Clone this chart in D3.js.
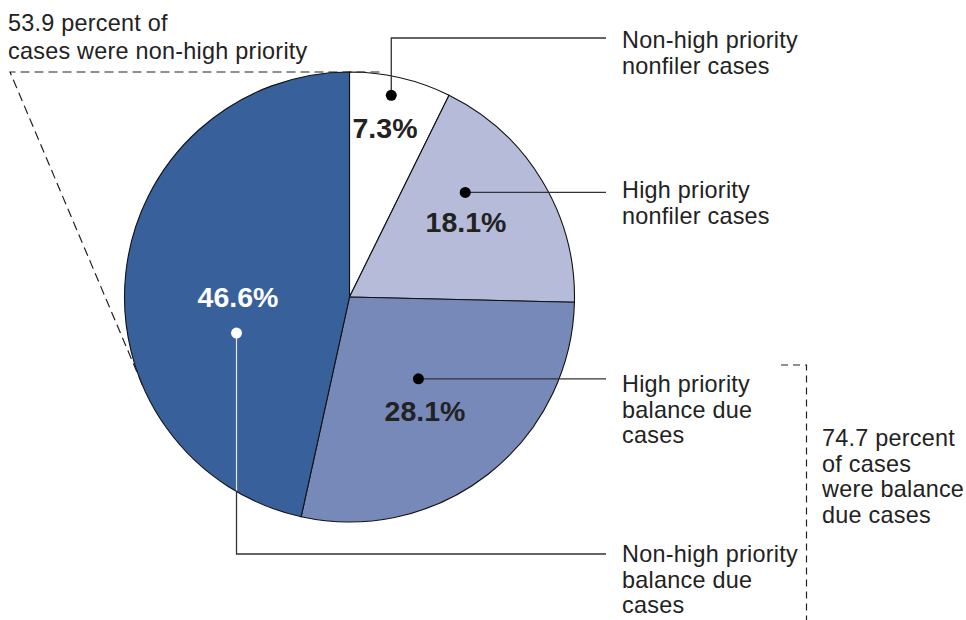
<!DOCTYPE html>
<html><head><meta charset="utf-8">
<script src="https://cdn.jsdelivr.net/npm/d3@7"></script>
<style>
html,body{margin:0;padding:0;background:#fff;}
svg{display:block;font-family:"Liberation Sans",Arial,sans-serif;}
</style></head>
<body><svg id="chart" width="966" height="620"></svg>
<script>
// ---- data ----
const categories = ["Non-high priority nonfiler cases","High priority nonfiler cases","High priority balance due cases","Non-high priority balance due cases"];
const values = [7.3, 18.1, 28.1, 46.6];
const valueLabels = ["7.3%","18.1%","28.1%","46.6%"];
const legendLines = [["Non-high priority","nonfiler cases"],["High priority","nonfiler cases"],["High priority","balance due","cases"],["Non-high priority","balance due","cases"]];
const colors = ["#ffffff","#b7bbda","#7789b9","#38609b"];
const noteLeft = ["53.9 percent of","cases were non-high priority"];
const noteRight = ["74.7 percent","of cases","were balance","due cases"];

// ---- layout ----
const svg = d3.select("#chart");
const cx = 349.5, cy = 297, R = 225;
const ink = "#222";
const fs = 23.4, ls = 0.25;
const g = svg.append("g").attr("transform",`translate(${cx},${cy})`);
const pie = d3.pie().sort(null).value(d=>d)(values);
const arc = d3.arc().innerRadius(0).outerRadius(R);
const polar = (deg, r) => [r*Math.sin(deg*Math.PI/180), -r*Math.cos(deg*Math.PI/180)];

// dashed wedge for non-high priority share
const tx = 10, ty = cy - R;
{
  const vx = cx - tx, vy = cy - ty;
  const d = Math.hypot(vx, vy);
  const t = Math.sqrt(d*d - R*R);
  const base = Math.atan2(vy, vx);
  const a = base + Math.asin(R/d);
  const ex = tx + t*Math.cos(a), ey = ty + t*Math.sin(a);
  svg.append("path").attr("d",`M${ex},${ey}L${tx},${ty}L380,${ty}`)
    .attr("fill","none").attr("stroke","#222").attr("stroke-width",1.2).attr("stroke-dasharray","9,5");
}

g.selectAll("path.slice").data(pie).join("path").attr("class","slice")
  .attr("d",arc).attr("fill",(d,i)=>colors[i]).attr("stroke","#111").attr("stroke-width",1.1);

// annotation anchors (angle in degrees from 12 o'clock, radius)
const anchors = [[11.7,206],[47.9,156],[139.9,107],[252.3,118.6]];
const labelX = 622, lineEndX = 606;
const legendBase = [48, 198, 392, 562];
const legendLeaderY = [38, 192, 379, 554];
const pctPos = [[385,138],[466,232],[425,421],[238,307]];

anchors.forEach((a,i)=>{
  const [dx,dy] = polar(a[0],a[1]);
  const px = cx+dx, py = cy+dy;
  let path;
  if (i===0 || i===3) path = `M${px},${py}V${legendLeaderY[i]}H${lineEndX}`;
  else path = `M${px},${py}H${lineEndX}`;
  svg.append("path").attr("d",path).attr("fill","none").attr("stroke","#333").attr("stroke-width",1.3);
  if (i===3) {
    const edgeY = cy + Math.sqrt(R*R - dx*dx);
    svg.append("line").attr("x1",px).attr("x2",px).attr("y1",py).attr("y2",edgeY-1)
      .attr("stroke","#e6e6e6").attr("stroke-width",1.3);
  }
  svg.append("circle").attr("cx",px).attr("cy",py).attr("r",5.5).attr("fill",i===3?"#fff":"#000");
  svg.append("text").attr("x",pctPos[i][0]).attr("y",pctPos[i][1]).attr("text-anchor","middle")
    .attr("font-weight","bold").attr("font-size",28.5).attr("fill",i===3?"#fff":ink).text(valueLabels[i]);
  legendLines[i].forEach((s,j)=>{
    svg.append("text").attr("x",labelX).attr("y",legendBase[i]+j*25.5).attr("font-size",fs)
      .attr("letter-spacing",ls).attr("fill",ink).text(s);
  });
});

// left note
noteLeft.forEach((s,j)=>svg.append("text").attr("x",8).attr("y",31+j*28).attr("font-size",fs)
  .attr("letter-spacing",ls).attr("fill",ink).text(s));

// right bracket and note
svg.append("path").attr("d","M781,365H806.5V620").attr("fill","none").attr("stroke","#222")
  .attr("stroke-width",1.2).attr("stroke-dasharray","7,5");
noteRight.forEach((s,j)=>svg.append("text").attr("x",822).attr("y",446+j*25.5).attr("font-size",fs)
  .attr("letter-spacing",ls).attr("fill",ink).text(s));
</script></body></html>
